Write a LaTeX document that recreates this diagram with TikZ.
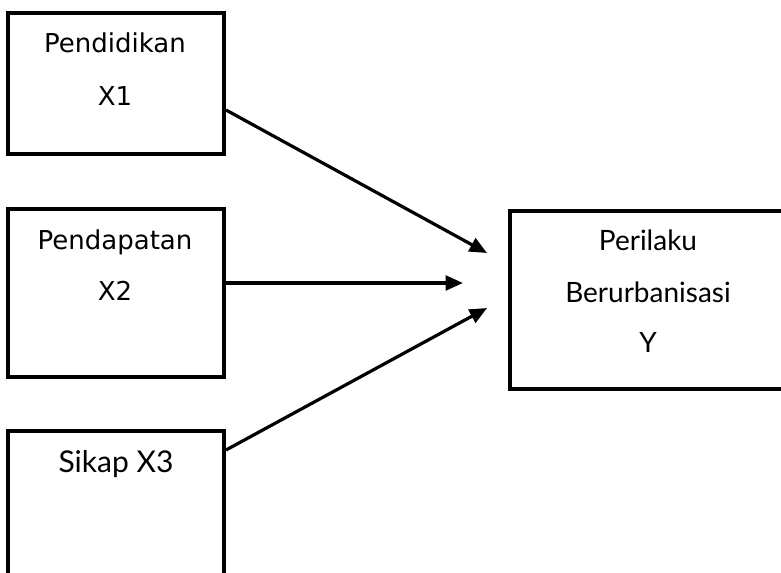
\documentclass[tikz,border=0pt]{standalone}
\usepackage{fontspec}
\setmainfont{DejaVu Sans}
\newfontfamily\latofont{Lato}
\usetikzlibrary{arrows.meta}

\begin{document}
\begin{tikzpicture}[x=0.75pt,y=0.75pt,yscale=-1,xscale=1,
    varbox/.style={draw, line width=3pt, rectangle, inner sep=0pt},
    lbl/.style={anchor=base, inner sep=0pt, font=\fontsize{19.5pt}{24pt}\selectfont},
    lbllato/.style={anchor=base, inner sep=0pt, font=\latofont\fontsize{21pt}{25pt}\selectfont},
    link/.style={line width=2.4pt, -{Triangle[length=13pt,width=11pt]}}]
    \useasboundingbox (0,0) rectangle (781,572);
    \clip (0,0) rectangle (781,572);
    \node [varbox, minimum width=162pt, minimum height=105.75pt] (pendidikan) at (116,83.5) {};
    \node [varbox, minimum width=162pt, minimum height=126pt] (pendapatan) at (116,293) {};
    \node [varbox, minimum width=162pt, minimum height=126.75pt] (sikap) at (116,515.5) {};
    \node [varbox, minimum width=207pt, minimum height=133.5pt] (perilaku) at (648,300) {};
    \node [lbl] (pendidikanT) at (115,52) {Pendidikan};
    \node [lbl] (pendidikanX) at (115,105) {X1};
    \node [lbl] (pendapatanT) at (115,249) {Pendapatan};
    \node [lbl] (pendapatanX) at (115,300) {X2};
    \node [lbllato, font=\latofont\fontsize{22.5pt}{26pt}\selectfont] (sikapT) at (116,472) {Sikap X3};
    \node [lbllato] (perilakuT) at (648,250) {Perilaku};
    \node [lbllato] (perilakuB) at (648,302) {Berurbanisasi};
    \node [lbllato] (perilakuY) at (648,352) {Y};
    \coordinate (h1) at (0,110);
    \coordinate (h2) at (0,283);
    \coordinate (h3) at (0,450);
    \coordinate (tip1) at (487,253);
    \coordinate (tip2) at (463,283);
    \coordinate (tip3) at (487,308);
    \draw [link] (pendidikan.east |- h1) -- (tip1);
    \draw [link] (pendapatan.east |- h2) -- (tip2);
    \draw [link] (sikap.east |- h3) -- (tip3);
\end{tikzpicture}
\end{document}
